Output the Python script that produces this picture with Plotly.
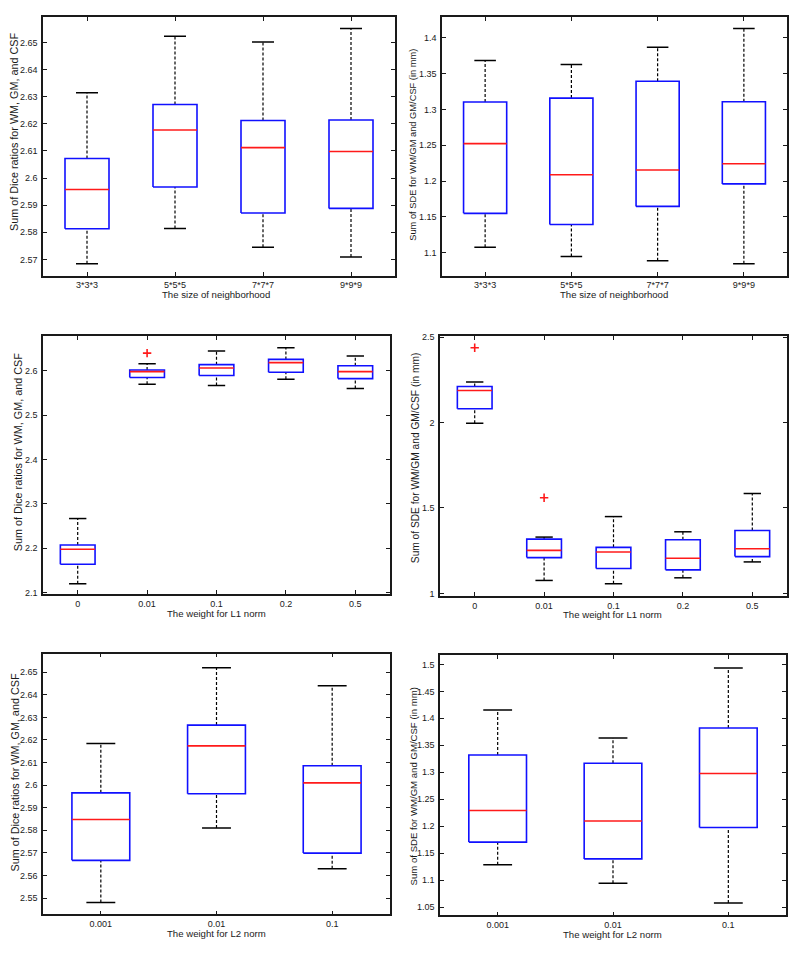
import plotly.graph_objects as go

# ---------------- data ----------------
# Panel 1: Dice vs neighborhood size
nbhd_labels = ["3*3*3", "5*5*5", "7*7*7", "9*9*9"]
dice_nbhd_lo = [2.5684, 2.5814, 2.5745, 2.5709]
dice_nbhd_q1 = [2.5813, 2.5967, 2.5871, 2.5888]
dice_nbhd_med = [2.5958, 2.6177, 2.6112, 2.6098]
dice_nbhd_q3 = [2.6072, 2.6271, 2.6212, 2.6214]
dice_nbhd_hi = [2.6314, 2.6523, 2.6501, 2.6551]
dice_nbhd_out = [[], [], [], []]
dice_nbhd_ticks = [2.57, 2.58, 2.59, 2.60, 2.61, 2.62, 2.63, 2.64, 2.65]

# Panel 2: SDE vs neighborhood size
sde_nbhd_lo = [1.1074, 1.0945, 1.0885, 1.0843]
sde_nbhd_q1 = [1.1549, 1.1392, 1.1646, 1.1960]
sde_nbhd_med = [1.2523, 1.2089, 1.2154, 1.2242]
sde_nbhd_q3 = [1.3105, 1.3160, 1.3395, 1.3109]
sde_nbhd_hi = [1.3686, 1.3631, 1.3871, 1.4134]
sde_nbhd_out = [[], [], [], []]
sde_nbhd_ticks = [1.10, 1.15, 1.20, 1.25, 1.30, 1.35, 1.40]

# Panel 3: Dice vs L1 weight
l1_labels = ["0", "0.01", "0.1", "0.2", "0.5"]
dice_l1_lo = [2.1201, 2.5701, 2.5672, 2.5813, 2.5604]
dice_l1_q1 = [2.1642, 2.5851, 2.5896, 2.5970, 2.5828]
dice_l1_med = [2.1978, 2.5985, 2.6067, 2.6187, 2.5985]
dice_l1_q3 = [2.2075, 2.6022, 2.6142, 2.6261, 2.6119]
dice_l1_hi = [2.2672, 2.6164, 2.6448, 2.6522, 2.6336]
dice_l1_out = [[], [2.6403], [], [], []]
dice_l1_ticks = [2.1, 2.2, 2.3, 2.4, 2.5, 2.6]

# Panel 4: SDE vs L1 weight
sde_l1_lo = [1.9961, 1.0756, 1.0562, 1.0910, 1.1841]
sde_l1_q1 = [2.0814, 1.2093, 1.1453, 1.1376, 1.2151]
sde_l1_med = [2.1880, 1.2519, 1.2422, 1.2054, 1.2616]
sde_l1_q3 = [2.2112, 1.3178, 1.2694, 1.3140, 1.3682]
sde_l1_hi = [2.2384, 1.3295, 1.4496, 1.3605, 1.5853]
sde_l1_out = [[2.438], [1.560], [], [], []]
sde_l1_ticks = [1.0, 1.5, 2.0, 2.5]

# Panel 5: Dice vs L2 weight
l2_labels = ["0.001", "0.01", "0.1"]
dice_l2_lo = [2.5480, 2.5810, 2.5630]
dice_l2_q1 = [2.5667, 2.5962, 2.5699]
dice_l2_med = [2.5848, 2.6174, 2.6010]
dice_l2_q3 = [2.5966, 2.6266, 2.6086]
dice_l2_hi = [2.6184, 2.6520, 2.6440]
dice_l2_out = [[], [], []]
dice_l2_ticks = [2.55, 2.56, 2.57, 2.58, 2.59, 2.60, 2.61, 2.62, 2.63, 2.64, 2.65]

# Panel 6: SDE vs L2 weight
sde_l2_lo = [1.1283, 1.0940, 1.0573]
sde_l2_q1 = [1.1705, 1.1393, 1.1974]
sde_l2_med = [1.2291, 1.2096, 1.2976]
sde_l2_q3 = [1.3319, 1.3166, 1.3820]
sde_l2_hi = [1.4156, 1.3637, 1.4933]
sde_l2_out = [[], [], []]
sde_l2_ticks = [1.05, 1.10, 1.15, 1.20, 1.25, 1.30, 1.35, 1.40, 1.45, 1.50]

dice_title = "Sum of Dice ratios for WM, GM, and CSF"
sde_title = "Sum of SDE for WM/GM and GM/CSF (in mm)"
nbhd_title = "The size of neighborhood"
l1_title = "The weight for L1 norm"
l2_title = "The weight for L2 norm"

# ---------------- layout settings (pixels) ----------------
W, H = 800, 955
FONT = "Arial, Liberation Sans, Helvetica, sans-serif"
TXT = "#1a1a1a"

panels = [
    dict(labels=nbhd_labels, lo=dice_nbhd_lo, q1=dice_nbhd_q1, med=dice_nbhd_med, q3=dice_nbhd_q3,
         hi=dice_nbhd_hi, out=dice_nbhd_out, ticks=dice_nbhd_ticks, yr=[2.5640, 2.6594],
         box=(43, 395, 13, 274), ytitle=dice_title, xtitle=nbhd_title,
         ytpos=(14, 129), ytsize=10.8, xtpos=(216, 293)),
    dict(labels=nbhd_labels, lo=sde_nbhd_lo, q1=sde_nbhd_q1, med=sde_nbhd_med, q3=sde_nbhd_q3,
         hi=sde_nbhd_hi, out=sde_nbhd_out, ticks=sde_nbhd_ticks, yr=[1.0677, 1.4295],
         box=(442, 787, 13, 274), ytitle=sde_title, xtitle=nbhd_title,
         ytpos=(413, 142), ytsize=9.3, xtpos=(614, 293)),
    dict(labels=l1_labels, lo=dice_l1_lo, q1=dice_l1_q1, med=dice_l1_med, q3=dice_l1_q3,
         hi=dice_l1_hi, out=dice_l1_out, ticks=dice_l1_ticks, yr=[2.0970, 2.6784],
         box=(43, 390, 335, 595), ytitle=dice_title, xtitle=l1_title,
         ytpos=(18, 452), ytsize=10.8, xtpos=(216, 615)),
    dict(labels=l1_labels, lo=sde_l1_lo, q1=sde_l1_q1, med=sde_l1_med, q3=sde_l1_q3,
         hi=sde_l1_hi, out=sde_l1_out, ticks=sde_l1_ticks, yr=[0.9845, 2.506],
         box=(440, 787, 335, 597), ytitle=sde_title, xtitle=l1_title,
         ytpos=(415, 458), ytsize=10.2, xtpos=(612, 616)),
    dict(labels=l2_labels, lo=dice_l2_lo, q1=dice_l2_q1, med=dice_l2_med, q3=dice_l2_q3,
         hi=dice_l2_hi, out=dice_l2_out, ticks=dice_l2_ticks, yr=[2.5428, 2.6583],
         box=(43, 390, 655, 918), ytitle=dice_title, xtitle=l2_title,
         ytpos=(15, 775), ytsize=10.8, xtpos=(216, 937)),
    dict(labels=l2_labels, lo=sde_l2_lo, q1=sde_l2_q1, med=sde_l2_med, q3=sde_l2_q3,
         hi=sde_l2_hi, out=sde_l2_out, ticks=sde_l2_ticks, yr=[1.0347, 1.5165],
         box=(440, 786, 657, 919), ytitle=sde_title, xtitle=l2_title,
         ytpos=(413, 789), ytsize=9.6, xtpos=(612, 938)),
]

BOX_HALF = 0.25
CAP_HALF = 0.125


def fmt(v):
    return f"{v:g}"


fig = go.Figure()
annotations = []
layout_axes = {}

for k, p in enumerate(panels):
    n = k + 1
    xa = "x" if n == 1 else f"x{n}"
    ya = "y" if n == 1 else f"y{n}"
    xs = list(range(1, len(p["labels"]) + 1))

    wx, wy = [], []
    cx, cy = [], []
    bx, by = [], []
    mx, my = [], []
    ox, oy = [], []
    for i, x in enumerate(xs):
        wx += [x, x, None, x, x, None]
        wy += [p["q3"][i], p["hi"][i], None, p["lo"][i], p["q1"][i], None]
        cx += [x - CAP_HALF, x + CAP_HALF, None, x - CAP_HALF, x + CAP_HALF, None]
        cy += [p["hi"][i], p["hi"][i], None, p["lo"][i], p["lo"][i], None]
        bx += [x - BOX_HALF, x + BOX_HALF, x + BOX_HALF, x - BOX_HALF, x - BOX_HALF, None]
        by += [p["q1"][i], p["q1"][i], p["q3"][i], p["q3"][i], p["q1"][i], None]
        mx += [x - BOX_HALF, x + BOX_HALF, None]
        my += [p["med"][i], p["med"][i], None]
        for o in p["out"][i]:
            ox.append(x)
            oy.append(o)

    common = dict(xaxis=xa, yaxis=ya, showlegend=False, hoverinfo="skip", mode="lines")
    fig.add_trace(go.Scatter(x=wx, y=wy, line=dict(color="#000000", width=1.2, dash="3px,2px"), **common))
    fig.add_trace(go.Scatter(x=cx, y=cy, line=dict(color="#000000", width=1.5), **common))
    fig.add_trace(go.Scatter(x=bx, y=by, line=dict(color="#1010ff", width=1.6), **common))
    fig.add_trace(go.Scatter(x=mx, y=my, line=dict(color="#ff1a1a", width=1.6), **common))
    if ox:
        fig.add_trace(go.Scatter(x=ox, y=oy, xaxis=xa, yaxis=ya, mode="markers", showlegend=False,
                                 hoverinfo="skip",
                                 marker=dict(symbol="cross-thin", size=6,
                                             line=dict(color="#ff1a1a", width=1.6))))

    l, r, t, b = p["box"]
    axis_common = dict(showline=True, mirror="ticks", linecolor=TXT, linewidth=1.5,
                       ticks="inside", ticklen=4, tickwidth=1, tickcolor=TXT,
                       showgrid=False, zeroline=False,
                       tickfont=dict(family=FONT, size=9, color=TXT))
    layout_axes["xaxis" if n == 1 else f"xaxis{n}"] = dict(
        domain=[l / W, r / W], anchor=ya, range=[0.5, len(xs) + 0.5],
        tickmode="array", tickvals=xs, ticktext=p["labels"], **axis_common)
    layout_axes["yaxis" if n == 1 else f"yaxis{n}"] = dict(
        domain=[1 - b / H, 1 - t / H], anchor=xa, range=p["yr"],
        tickmode="array", tickvals=p["ticks"], ticktext=[fmt(v) for v in p["ticks"]],
        ticklabelstandoff=2, **axis_common)

    annotations.append(dict(text=p["ytitle"], xref="paper", yref="paper",
                            x=p["ytpos"][0] / W, y=1 - p["ytpos"][1] / H,
                            xanchor="center", yanchor="middle", textangle=-90, showarrow=False,
                            font=dict(family=FONT, size=p["ytsize"], color=TXT)))
    annotations.append(dict(text=p["xtitle"], xref="paper", yref="paper",
                            x=p["xtpos"][0] / W, y=1 - p["xtpos"][1] / H,
                            xanchor="center", yanchor="middle", showarrow=False,
                            font=dict(family=FONT, size=9.6, color=TXT)))

fig.update_layout(width=W, height=H, margin=dict(l=0, r=0, t=0, b=0),
                  paper_bgcolor="white", plot_bgcolor="white",
                  annotations=annotations, **layout_axes)

fig.write_html("out.html", config={"displayModeBar": False},
               post_script="document.body.style.margin='0px';")
